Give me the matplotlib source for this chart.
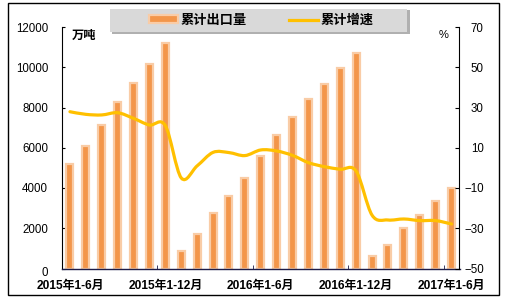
import matplotlib
matplotlib.use("Agg")
import matplotlib.pyplot as plt
from matplotlib.patches import Rectangle, Patch
from matplotlib.lines import Line2D
from matplotlib.path import Path
from matplotlib.patches import PathPatch
import matplotlib.transforms as mtransforms
import numpy as np

# ---- data ----
categories = (
    [f"2015年1-{m}月" for m in range(6, 13)]
    + ["2016年1月"] + [f"2016年1-{m}月" for m in range(2, 13)]
    + ["2017年1月"] + [f"2017年1-{m}月" for m in range(2, 7)]
)
export_volume = [5200, 6100, 7150, 8250, 9200, 10150, 11200,
                 880, 1710, 2760, 3600, 4500, 5590, 6630, 7530, 8440, 9180, 9950, 10720,
                 640, 1180, 1990, 2650, 3330, 4020]
growth_rate = [27.9, 26.6, 26.3, 27.4, 24.6, 21.3, 21.0,
               -5.0, 1.0, 7.7, 7.6, 6.1, 8.9, 8.4, 6.2, 2.6, 0.6, -0.7, -1.6,
               -23.5, -25.9, -25.4, -26.2, -26.2, -27.9]
label_every = 6
left_ticks = [0, 2000, 4000, 6000, 8000, 10000, 12000]
right_ticks = [-50, -30, -10, 10, 30, 50, 70]

BAR_FILL = "#F3964A"
BAR_EDGE = "#F9CCA6"
LINE_COLOR = "#FFC000"
CJK = ["Liberation Sans", "Noto Sans CJK SC"]

W, H = 509, 303
fig = plt.figure(figsize=(W / 100, H / 100), dpi=100)


def fx(px):
    return px / W


def fy(py):
    return 1 - py / H


# outer frame
fig.patches.append(Rectangle((fx(8), fy(295)), fx(499) - fx(8), fy(3) - fy(295),
                             transform=fig.transFigure, fill=False,
                             edgecolor="black", linewidth=1.0))

ax = fig.add_axes([fx(62), fy(268.5), fx(459.5) - fx(62), fy(27) - fy(268.5)])
ax2 = ax.twinx()

x = np.arange(len(categories))
ax.bar(x, export_volume, width=0.44, color=BAR_FILL, edgecolor=BAR_EDGE,
       linewidth=1.6, zorder=2)
ax.set_xlim(-0.5, len(categories) - 0.5)
ax.set_ylim(0, 12000)
ax.set_yticks(left_ticks)
ax2.set_ylim(-50, 70)
ax2.set_yticks(right_ticks)

# smoothed growth curve (cubic Bezier segments through each point)
pts = np.column_stack([x, growth_rate]).astype(float)
ext = np.vstack([pts[0], pts, pts[-1]])
verts = [tuple(pts[0])]
codes = [Path.MOVETO]
for i in range(len(pts) - 1):
    p0, p1, p2, p3 = ext[i], ext[i + 1], ext[i + 2], ext[i + 3]
    c1 = p1 + (p2 - p0) / 6.0
    c2 = p2 - (p3 - p1) / 6.0
    verts += [tuple(c1), tuple(c2), tuple(p2)]
    codes += [Path.CURVE4] * 3
ax2.add_patch(PathPatch(Path(verts, codes), fill=False, edgecolor=LINE_COLOR,
                        linewidth=2.3, capstyle="round", joinstyle="round",
                        transform=ax2.transData, zorder=3))

# spines
for s in ("top", "right"):
    ax.spines[s].set_visible(False)
for s in ("top", "left", "bottom"):
    ax2.spines[s].set_visible(False)
ax.spines["left"].set_color("black")
ax.spines["bottom"].set_color("#1c1c48")
ax.spines["bottom"].set_linewidth(1.0)
ax2.spines["right"].set_color("black")

# x axis: labels every 6 categories, small marks at group boundaries
ax.set_xticks(x[::label_every])
ax.set_xticklabels(categories[::label_every], fontfamily=CJK,
                   fontweight="bold", fontsize=8.6)
ax.set_xticks(np.arange(label_every - 0.5, len(categories) - 0.5, label_every),
              minor=True)
ax.tick_params(axis="x", which="major", length=0, pad=8)
ax.tick_params(axis="x", which="minor", direction="in", length=3,
               color="#1c1c48")

ax.tick_params(axis="y", direction="in", length=2.5, pad=10,
               labelsize=8.3)
ax2.tick_params(axis="y", direction="in", length=3, pad=17.5,
                labelsize=8.3)
for lab in ax.get_yticklabels():
    lab.set_fontfamily("Liberation Sans")
for lab in ax2.get_yticklabels():
    lab.set_fontfamily("Liberation Sans")
    lab.set_horizontalalignment("right")

# nudge the zero label slightly down
zero_lab = ax.get_yticklabels()[0]
zero_lab.set_transform(zero_lab.get_transform() +
                       mtransforms.ScaledTranslation(0, -3 / 100, fig.dpi_scale_trans))

# unit labels
fig.text(fx(72), fy(36), "万吨", fontfamily=CJK, fontweight="bold",
         fontsize=8.8, ha="left", va="center")
fig.text(fx(444), fy(35), "%", fontfamily="Liberation Sans", fontsize=8,
         ha="center", va="center")

# legend box with shadow
fig.patches.append(Rectangle((fx(112), fy(34)), fx(410) - fx(112), fy(10) - fy(34),
                             transform=fig.transFigure, facecolor="#9c9c9c",
                             edgecolor="none", alpha=0.8))
fig.patches.append(Rectangle((fx(110), fy(32)), fx(407) - fx(110), fy(9) - fy(32),
                             transform=fig.transFigure, facecolor="#D9D9D9",
                             edgecolor="none"))
handles = [Patch(facecolor=BAR_FILL, edgecolor=BAR_EDGE, linewidth=1.6),
           Line2D([0], [0], color=LINE_COLOR, linewidth=2.3)]
fig.legend(handles, ["累计出口量", "累计增速"], loc="center",
           bbox_to_anchor=(fx(261), fy(20.5)), ncol=2, frameon=False,
           prop={"family": CJK, "weight": "bold", "size": 9.5},
           handlelength=2.2, handleheight=0.45, handletextpad=0.2,
           columnspacing=3.2, borderpad=0)

fig.savefig("out.png", dpi=100)
